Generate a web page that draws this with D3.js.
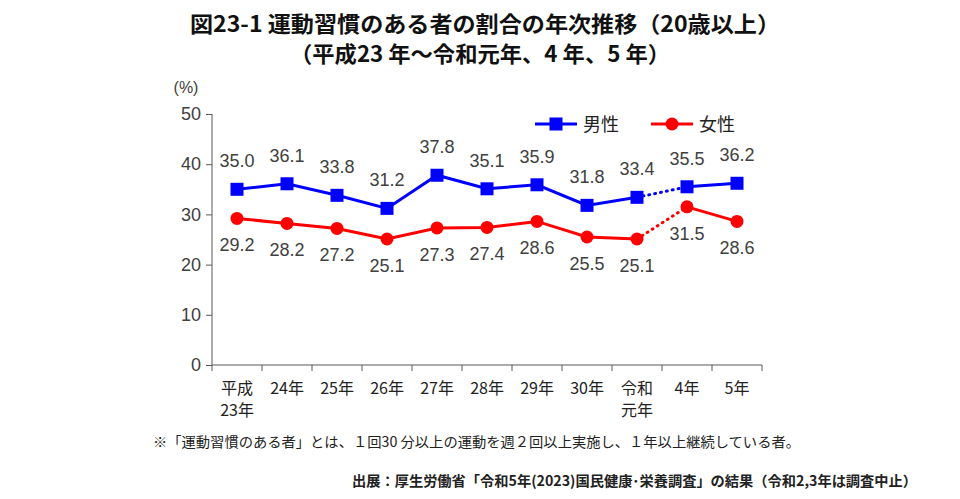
<!DOCTYPE html>
<html>
<head>
<meta charset="utf-8">
<style>
  body { margin: 0; background: #fff; font-family: 'Noto Sans CJK JP', 'Noto Sans', sans-serif; }
  svg { display: block; }
</style>
</head>
<body>
<svg width="960" height="499"></svg>
<script src="https://d3js.org/d3.v7.min.js"></script>
<script>
// categories (two-line labels)
const years = [["平成", "23年"], ["24年"], ["25年"], ["26年"], ["27年"], ["28年"], ["29年"], ["30年"], ["令和", "元年"], ["4年"], ["5年"]]
const male = [35.0, 36.1, 33.8, 31.2, 37.8, 35.1, 35.9, 31.8, 33.4, 35.5, 36.2]
const female = [29.2, 28.2, 27.2, 25.1, 27.3, 27.4, 28.6, 25.5, 25.1, 31.5, 28.6]
const yTicks = [0, 10, 20, 30, 40, 50]
const gapAfter = 8 // 令和2,3年 not surveyed -> dotted segment

const svg = d3.select("svg")
const textCol = "#404040"
const numFont = "Liberation Sans, Arial, sans-serif"

let x = d3.scaleBand().domain(d3.range(years.length)).range([212, 762])
let y = d3.scaleLinear().domain([0, 50]).range([365, 114])
let cx = i => x(i) + x.bandwidth() / 2

// title
svg.append("text").attr("x", 485).attr("y", 32).attr("text-anchor", "middle")
  .attr("font-size", 22).attr("font-weight", "bold").attr("fill", "#111")
  .attr("textLength", 590).attr("lengthAdjust", "spacingAndGlyphs")
  .text("図23-1 運動習慣のある者の割合の年次推移（20歳以上）")
svg.append("text").attr("x", 480).attr("y", 62).attr("text-anchor", "middle")
  .attr("font-size", 22).attr("font-weight", "bold").attr("fill", "#111")
  .attr("textLength", 380).attr("lengthAdjust", "spacingAndGlyphs")
  .text("（平成23 年～令和元年、4 年、5 年）")

// axes
let yAxis = svg.append("g").attr("transform", "translate(212,0)")
  .call(d3.axisLeft(y).tickValues(yTicks).tickSize(6).tickPadding(5))
yAxis.selectAll("text").attr("font-size", 18).attr("fill", textCol).attr("font-family", numFont)
yAxis.selectAll("line,path").attr("stroke", "#595959")
yAxis.select("path").attr("d", "M0,114V365")

let xAxis = svg.append("g").attr("transform", "translate(0,365)")
xAxis.append("line").attr("x1", 212).attr("x2", 762).attr("stroke", "#595959")
xAxis.selectAll(".tk").data(d3.range(years.length + 1)).join("line")
  .attr("x1", i => i < years.length ? x(i) : 762).attr("x2", i => i < years.length ? x(i) : 762)
  .attr("y1", 0).attr("y2", 6).attr("stroke", "#595959")
xAxis.selectAll(".lb").data(years).join("text")
  .attr("text-anchor", "middle").attr("font-size", 16).attr("fill", "#222")
  .attr("transform", (d, i) => `translate(${cx(i)},29)`)
  .selectAll("tspan").data(d => d).join("tspan")
  .attr("x", 0).attr("dy", (d, j) => j ? 22 : 0).text(d => d)

svg.append("text").attr("x", 186).attr("y", 93).attr("text-anchor", "middle")
  .attr("font-size", 16).attr("fill", textCol).attr("font-family", numFont).text("(%)")

// series
let line = d3.line().x(d => cx(d.i)).y(d => y(d.v))
function drawSeries(vals, color, shape, labelDy) {
  let pts = vals.map((v, i) => ({ v, i }))
  let g = svg.append("g")
  g.append("path").attr("d", line(pts.slice(0, gapAfter + 1))).attr("fill", "none").attr("stroke", color).attr("stroke-width", 3)
  g.append("path").attr("d", line(pts.slice(gapAfter + 1))).attr("fill", "none").attr("stroke", color).attr("stroke-width", 3)
  g.append("path").attr("d", line(pts.slice(gapAfter, gapAfter + 2))).attr("fill", "none").attr("stroke", color)
    .attr("stroke-width", 3).attr("stroke-dasharray", "1,5").attr("stroke-linecap", "round")
  if (shape === "square") {
    g.selectAll("rect").data(pts).join("rect")
      .attr("x", d => cx(d.i) - 6.5).attr("y", d => y(d.v) - 6.5).attr("width", 13).attr("height", 13).attr("fill", color)
  } else {
    g.selectAll("circle").data(pts).join("circle")
      .attr("cx", d => cx(d.i)).attr("cy", d => y(d.v)).attr("r", 6.5).attr("fill", color)
  }
  g.selectAll("text").data(pts).join("text")
    .attr("x", d => cx(d.i)).attr("y", d => y(d.v) + labelDy).attr("text-anchor", "middle")
    .attr("font-size", 18).attr("fill", textCol).attr("font-family", numFont)
    .text(d => d.v.toFixed(1))
}
drawSeries(male, "#0000ff", "square", -22)
drawSeries(female, "#ff0000", "circle", 33)

// legend
let legend = [{ name: "男性", color: "#0000ff", shape: "square", x: 535 }, { name: "女性", color: "#ff0000", shape: "circle", x: 651 }]
legend.forEach(l => {
  let g = svg.append("g").attr("transform", `translate(${l.x},124)`)
  g.append("line").attr("x1", 0).attr("x2", 42).attr("stroke", l.color).attr("stroke-width", 3)
  if (l.shape === "square") g.append("rect").attr("x", 14.5).attr("y", -6.5).attr("width", 13).attr("height", 13).attr("fill", l.color)
  else g.append("circle").attr("cx", 21).attr("r", 6.5).attr("fill", l.color)
  g.append("text").attr("x", 48).attr("y", 7).attr("font-size", 18).attr("fill", "#222").text(l.name)
})

// notes
svg.append("text").attr("x", 153).attr("y", 447).attr("font-size", 14).attr("fill", "#222")
  .attr("textLength", 647).attr("lengthAdjust", "spacingAndGlyphs")
  .text("※「運動習慣のある者」とは、１回30 分以上の運動を週２回以上実施し、１年以上継続している者。")
svg.append("text").attr("x", 352).attr("y", 486).attr("font-size", 14)
  .attr("font-weight", "bold").attr("fill", "#222")
  .attr("textLength", 565).attr("lengthAdjust", "spacingAndGlyphs")
  .text("出展：厚生労働省「令和5年(2023)国民健康･栄養調査」の結果（令和2,3年は調査中止）")
</script>
</body>
</html>
